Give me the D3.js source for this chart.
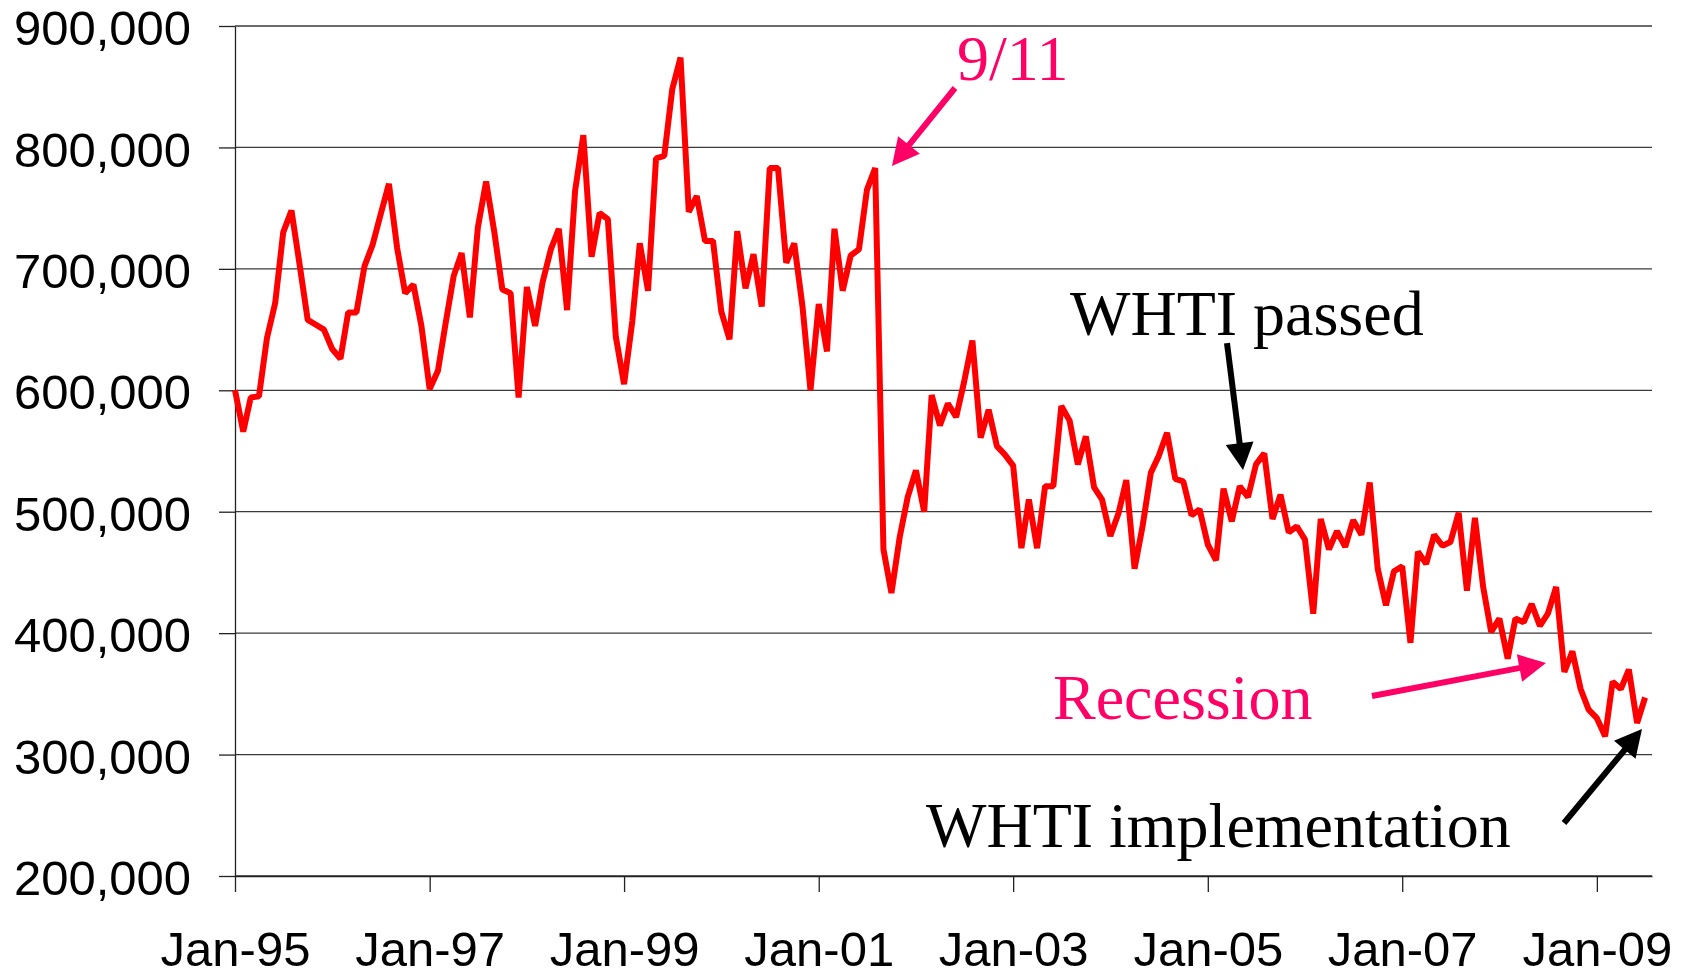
<!DOCTYPE html>
<html>
<head>
<meta charset="utf-8">
<script src="https://cdn.jsdelivr.net/npm/d3@7"></script>
<style>
  body { margin: 0; background: #fff; }
  svg { display: block; }
</style>
</head>
<body>
<svg id="chart" width="1691" height="977"></svg>
<script>
// monthly crossings, first value is Jan-95
const firstMonth = 'Jan-95';
const crossings = [
  600000, 566000, 594000, 595000, 643000, 672000, 730000, 748000, 703000, 658000, 654000, 650000,
  634000, 626000, 664000, 664000, 702000, 720000, 745000, 770000, 717000, 680000, 687000, 653000,
  601000, 616000, 654000, 694000, 713000, 660000, 734000, 772000, 730000, 683000, 680000, 594000,
  685000, 653000, 689000, 716000, 733000, 666000, 764000, 810000, 710000, 746000, 741000, 644000,
  605000, 657000, 721000, 682000, 791000, 793000, 848000, 874000, 747000, 760000, 723000, 723000,
  665000, 642000, 731000, 684000, 712000, 669000, 783000, 783000, 705000, 721000, 669000, 600000,
  671000, 632000, 733000, 682000, 711000, 716000, 765000, 783000, 469000, 433000, 479000, 512000,
  534000, 500000, 596000, 571000, 589000, 578000, 607000, 641000, 561000, 584000, 554000, 547000,
  538000, 470000, 510000, 470000, 521000, 521000, 587000, 575000, 539000, 562000, 520000, 510000,
  480000, 499000, 526000, 453000, 488000, 532000, 546000, 565000, 527000, 525000, 497000, 502000,
  473000, 460000, 519000, 492000, 521000, 512000, 539000, 548000, 494000, 514000, 483000, 488000,
  477000, 416000, 494000, 469000, 484000, 471000, 493000, 481000, 524000, 453000, 423000, 451000,
  455000, 392000, 467000, 457000, 481000, 472000, 475000, 499000, 435000, 495000, 438000, 401000,
  412000, 379000, 412000, 409000, 424000, 406000, 416000, 438000, 368000, 385000, 354000, 337000,
  330000, 315000, 360000, 354000, 370000, 326000, 347000
];
const yTicks = [200000, 300000, 400000, 500000, 600000, 700000, 800000, 900000];
const xTickLabels = ['Jan-95', 'Jan-97', 'Jan-99', 'Jan-01', 'Jan-03', 'Jan-05', 'Jan-07', 'Jan-09'];

class CrossingsChart {
  constructor(_config) {
    this.config = {
      selection: _config.selection,
      containerWidth: _config.containerWidth || 1691,
      containerHeight: _config.containerHeight || 977,
      margin: { top: 26, right: 39, bottom: 101, left: 235 },
    }
    this.values = _config.values;
  }

  render() {
    let vis = this;
    const m = vis.config.margin;
    const width = vis.config.containerWidth - m.left - m.right;
    const height = vis.config.containerHeight - m.top - m.bottom;
    const parseMonth = d3.timeParse('%b-%y');
    const start = parseMonth(firstMonth);

    vis.data = vis.values.map((v, i) => ({ date: d3.timeMonth.offset(start, i), value: v }));
    const lastDate = vis.data[vis.data.length - 1].date;

    vis.x = d3.scaleTime()
      .domain([start, d3.timeDay.offset(lastDate, 26)])
      .range([0, width]);
    vis.y = d3.scaleLinear()
      .domain([200000, 900000])
      .range([height, 0]);

    vis.svg = d3.select(vis.config.selection);
    vis.chart = vis.svg.append('g')
      .attr('transform', `translate(${m.left}, ${m.top})`);

    // Gridlines
    vis.chart.append('g')
      .selectAll('line')
      .data(yTicks)
      .join('line')
      .attr('x1', 0)
      .attr('x2', width)
      .attr('y1', d => vis.y(d))
      .attr('y2', d => vis.y(d))
      .attr('stroke', '#3a3a3a')
      .attr('stroke-width', 1.3);

    // Axes
    const yAxis = vis.chart.append('g')
      .call(d3.axisLeft(vis.y)
        .tickValues(yTicks)
        .tickSize(16)
        .tickSizeOuter(0)
        .tickPadding(28)
        .tickFormat(d3.format(',')));
    yAxis.selectAll('text').attr('dy', '0.38em');

    const xTickDates = xTickLabels.map(parseMonth);
    const xAxis = vis.chart.append('g')
      .attr('transform', `translate(0, ${height})`)
      .call(d3.axisBottom(vis.x)
        .tickValues(xTickDates)
        .tickSize(16)
        .tickSizeOuter(0)
        .tickPadding(39)
        .tickFormat((d, i) => xTickLabels[i]));

    [yAxis, xAxis].forEach(a => {
      a.selectAll('.domain').attr('stroke', '#222').attr('stroke-width', 1.3);
      a.selectAll('.tick line').attr('stroke', '#222').attr('stroke-width', 1.3);
      a.selectAll('text')
        .attr('fill', '#000')
        .style('font-family', 'Arial, "Liberation Sans", sans-serif')
        .style('font-size', '49px');
    });

    // Series
    vis.chart.append('path')
      .datum(vis.data)
      .attr('d', d3.line().x(d => vis.x(d.date)).y(d => vis.y(d.value)))
      .attr('fill', 'none')
      .attr('stroke', '#ff0000')
      .attr('stroke-width', 6)
      .attr('stroke-linejoin', 'bevel');

    // Annotations
    const pink = '#ff0066';
    const noteG = vis.svg.append('g')
      .style('font-family', '"Times New Roman", "Liberation Serif", serif')
      .style('font-size', '64px');

    noteG.append('text').text('9/11').attr('x', 957).attr('y', 80).attr('fill', pink);
    noteG.append('text').text('WHTI passed').attr('x', 1070).attr('y', 335).attr('fill', '#000');
    noteG.append('text').text('Recession').attr('x', 1053).attr('y', 719).attr('fill', pink);
    noteG.append('text').text('WHTI implementation').attr('x', 926).attr('y', 847).attr('fill', '#000');

    vis.arrow(noteG, 955, 88, 892, 166, pink);
    vis.arrow(noteG, 1227, 343, 1243, 470, '#000');
    vis.arrow(noteG, 1372, 696, 1546, 663, pink);
    vis.arrow(noteG, 1564, 823, 1642, 729, '#000');
  }

  arrow(g, x1, y1, x2, y2, colour) {
    const len = Math.hypot(x2 - x1, y2 - y1);
    const ux = (x2 - x1) / len, uy = (y2 - y1) / len;
    const headLen = 27, headHalf = 14;
    const bx = x2 - ux * headLen, by = y2 - uy * headLen;

    g.append('path')
      .attr('d', d3.line()([[x1, y1], [bx + ux * 2, by + uy * 2]]))
      .attr('stroke', colour)
      .attr('stroke-width', 6);
    g.append('path')
      .attr('d', d3.line()([[x2, y2], [bx - uy * headHalf, by + ux * headHalf], [bx + uy * headHalf, by - ux * headHalf]]) + 'Z')
      .attr('fill', colour);
  }
}

const chart = new CrossingsChart({ selection: '#chart', values: crossings });
chart.render();
</script>
</body>
</html>
